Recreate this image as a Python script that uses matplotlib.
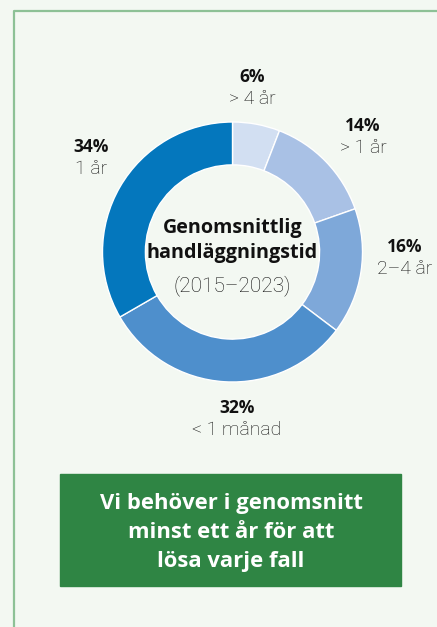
import matplotlib.pyplot as plt
from matplotlib.patches import Rectangle

# data
shares = [6, 14, 16, 32, 34]
periods = ['> 4 år', '> 1 år', '2\u20134 år', '< 1 månad', '1 år']
colors = ['#d2dff2', '#a9c1e5', '#7ea8d9', '#4e8fcc', '#0477bd']
center_title = ['Genomsnittlig', 'handläggningstid']
center_sub = '(2015\u20132023)'
box_text = ['Vi behöver i genomsnitt', 'minst ett år för att', 'lösa varje fall']

# label positions in pixels (x, y of the percent line)
label_pos = [(252, 77), (363, 126), (405, 247), (237, 408), (91, 147)]

W, H = 437, 627
bg = '#f3f8f2'
fig = plt.figure(figsize=(W / 100, H / 100), dpi=100, facecolor=bg)

# background axes in pixel coords
bax = fig.add_axes([0, 0, 1, 1])
bax.set_xlim(0, W)
bax.set_ylim(H, 0)
bax.axis('off')
bax.set_facecolor(bg)

# green frame
bax.plot([14, 14, W + 5], [H + 5, 11, 11], color='#8dc196', lw=1.6, solid_capstyle='butt')

# donut
cx, cy, r = 232.5, 252, 130
pax = fig.add_axes([(cx - r) / W, 1 - (cy + r) / H, 2 * r / W, 2 * r / H])
pax.pie(shares, colors=colors, startangle=90, counterclock=False, radius=1,
        wedgeprops=dict(width=0.33, edgecolor='white', linewidth=1))
pax.set_xlim(-1, 1)
pax.set_ylim(-1, 1)
pax.set_aspect('equal')
pax.axis('off')

# slice labels
for (x, y), s, p in zip(label_pos, shares, periods):
    bax.text(x, y, f'{s}%', ha='center', va='center', fontsize=12.5,
             fontweight='bold', family='Open Sans', color='#111111')
    bax.text(x, y + 22, p, ha='center', va='center', fontsize=14,
             fontweight='light', family='Roboto', color='#101010')

# center text
bax.text(cx, 228, center_title[0], ha='center', va='center', fontsize=14.2,
         fontweight='bold', family='Open Sans', color='#111111')
bax.text(cx, 253, center_title[1], ha='center', va='center', fontsize=14.2,
         fontweight='bold', family='Open Sans', color='#111111')
bax.text(cx, 286, center_sub, ha='center', va='center', fontsize=15,
         fontweight='light', family='Roboto', color='#101010')

# green box
bax.add_patch(Rectangle((60, 474), 341, 112, color='#2f8544'))
for i, t in enumerate(box_text):
    bax.text(231, 504 + i * 29, t, ha='center', va='center', fontsize=15.8,
             fontweight='bold', family='Open Sans', color='white')

fig.savefig('out.png', dpi=100, facecolor=bg)
